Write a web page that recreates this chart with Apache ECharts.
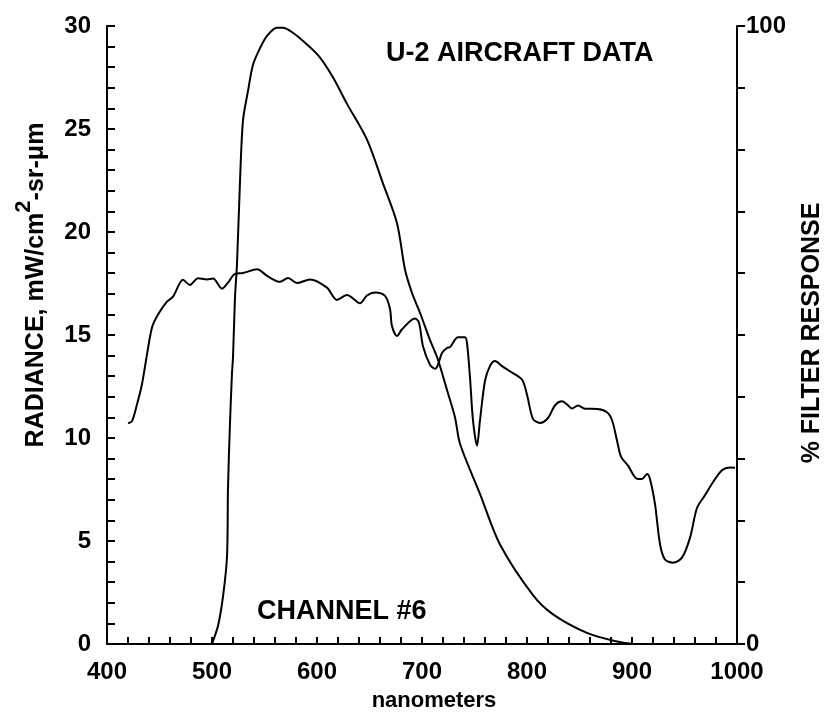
<!DOCTYPE html>
<html>
<head>
<meta charset="utf-8">
<script src="https://cdn.jsdelivr.net/npm/echarts@6/dist/echarts.min.js"></script>
<style>
html,body{margin:0;padding:0;background:#fff;}
#chart{width:832px;height:717px;}
</style>
</head>
<body>
<div id="chart"></div>
<script>
// Radiance spectrum (left axis, mW/cm2-sr-um) vs wavelength (nm)
const radianceNm = [420.0,423.8,428.6,433.3,438.1,442.9,448.6,457.1,462.9,472.4,479.0,486.7,495.2,501.0,509.5,515.2,521.9,529.5,542.9,553.3,564.8,572.4,581.0,593.3,609.5,619.0,628.6,641.0,647.6,655.2,664.8,669.5,671.4,676.2,681.0,693.3,697.1,701.0,707.6,712.4,715.2,719.0,723.8,726.7,734.3,741.0,742.9,745.7,748.6,752.4,755.2,760.0,764.8,769.5,776.2,783.8,795.2,800.0,805.7,812.4,820.0,826.7,833.3,838.1,842.9,848.6,855.2,866.7,876.2,881.0,885.7,889.5,896.2,904.8,909.5,914.3,917.1,921.9,926.7,931.4,939.0,947.6,955.2,961.9,969.5,977.1,985.7,993.3,998.1];
const radiance = [10.72,10.82,11.64,12.61,14.06,15.37,15.99,16.62,16.86,17.68,17.43,17.76,17.70,17.74,17.25,17.54,17.97,18.01,18.19,17.84,17.58,17.77,17.52,17.70,17.30,16.70,16.94,16.54,16.92,17.06,16.90,16.27,15.44,14.95,15.28,15.80,15.61,14.44,13.56,13.36,13.55,14.13,14.37,14.41,14.89,14.89,14.59,12.94,10.84,9.63,10.84,12.78,13.50,13.74,13.49,13.24,12.84,12.10,10.93,10.73,10.97,11.59,11.78,11.63,11.43,11.58,11.42,11.41,11.25,10.86,9.88,9.10,8.66,8.02,8.01,8.25,8.01,6.79,4.84,4.10,3.95,4.19,5.15,6.60,7.22,7.85,8.43,8.57,8.56];

// Channel #6 filter response (right axis, %)
const filterNm = [500.0,501.0,505.7,510.5,514.3,515.2,517.1,519.0,520.0,521.9,523.8,526.7,529.5,534.3,539.0,545.7,552.4,561.9,567.6,577.0,590.5,602.9,615.2,628.6,647.6,662.9,676.2,683.8,690.5,698.1,707.6,715.2,723.8,731.4,736.2,755.2,774.3,805.7,824.8,857.1,885.7,901.0];
const filterPct = [0,0.5,2.9,7.7,14.2,25,35.6,43.7,46.4,56.1,61.5,75,84.7,89.5,93.7,96.4,98.4,99.7,99.7,98.9,97,94.9,91.7,87.4,81.6,74.5,68.1,60.6,56.8,53.6,49.2,46,41.1,36.7,32.4,24.3,16.1,7.9,4.8,1.8,0.4,0];

const xTicksMajor = [400,500,600,700,800,900,1000];
const leftMajor = [0,5,10,15,20,25,30];
const rightLabels = [0,100];

const FONT = "'Liberation Sans', Arial, Helvetica, sans-serif";
const chart = echarts.init(document.getElementById('chart'), null, {renderer:'canvas'});

const option = {
  backgroundColor:'#fff',
  animation:false,
  grid:{left:107, right:95, top:26, bottom:73},
  xAxis:{
    type:'value', min:400, max:1000, interval:20,
    axisLine:{show:true, lineStyle:{color:'#000', width:2}},
    axisTick:{show:true, inside:true, length:7, lineStyle:{color:'#000', width:2}},
    splitLine:{show:false},
    axisLabel:{
      color:'#000', fontFamily:FONT, fontWeight:'bold', fontSize:24, margin:16,
      formatter:v => xTicksMajor.includes(v) ? String(v) : ''
    },
    name:'nanometers', nameLocation:'middle', nameGap:46,
    nameTextStyle:{color:'#000', fontFamily:FONT, fontWeight:'bold', fontSize:22, padding:[0,0,0,24]}
  },
  yAxis:[{
    type:'value', min:0, max:30, interval:1, position:'left',
    axisLine:{show:true, lineStyle:{color:'#000', width:2}},
    axisTick:{show:true, inside:true, length:8, lineStyle:{color:'#000', width:2}},
    splitLine:{show:false},
    axisLabel:{
      color:'#000', fontFamily:FONT, fontWeight:'bold', fontSize:24, margin:16,
      formatter:v => leftMajor.includes(v) ? String(v) : ''
    }
  },{
    type:'value', min:0, max:100, interval:10, position:'right',
    axisLine:{show:true, lineStyle:{color:'#000', width:2}},
    axisTick:{show:true, inside:false, length:8, lineStyle:{color:'#000', width:2}},
    splitLine:{show:false},
    axisLabel:{
      color:'#000', fontFamily:FONT, fontWeight:'bold', fontSize:24, margin:9,
      formatter:v => rightLabels.includes(v) ? String(v) : ''
    }
  }],
  series:[{
    type:'line', yAxisIndex:0, showSymbol:false, smooth:0.3,
    lineStyle:{color:'#000', width:2},
    data: radianceNm.map((x,i)=>[x, radiance[i]])
  },{
    type:'line', yAxisIndex:1, showSymbol:false, smooth:0.3,
    lineStyle:{color:'#000', width:2},
    data: filterNm.map((x,i)=>[x, filterPct[i]])
  }],
  graphic:[
    {type:'text', left:386, top:40, style:{text:'U-2 AIRCRAFT DATA', fill:'#000', font:"bold 27px "+FONT}},
    {type:'text', left:257, top:598, style:{text:'CHANNEL #6', fill:'#000', font:"bold 27px "+FONT}},
    {type:'text', x:31, y:285, rotation:Math.PI/2, style:{
      text:'{b|RADIANCE, mW/cm}{s|2}{b|-sr-μm}', fill:'#000', align:'center', verticalAlign:'middle',
      rich:{
        b:{font:"bold 25px "+FONT, fill:'#000', lineHeight:36, verticalAlign:'bottom'},
        s:{font:"bold 22px "+FONT, fill:'#000', lineHeight:36, verticalAlign:'top'}
      }
    }},
    {type:'text', x:812, y:333, rotation:Math.PI/2, style:{
      text:'% FILTER RESPONSE', fill:'#000', align:'center', verticalAlign:'middle', font:"bold 25px "+FONT
    }}
  ]
};
chart.setOption(option);
</script>
</body>
</html>
